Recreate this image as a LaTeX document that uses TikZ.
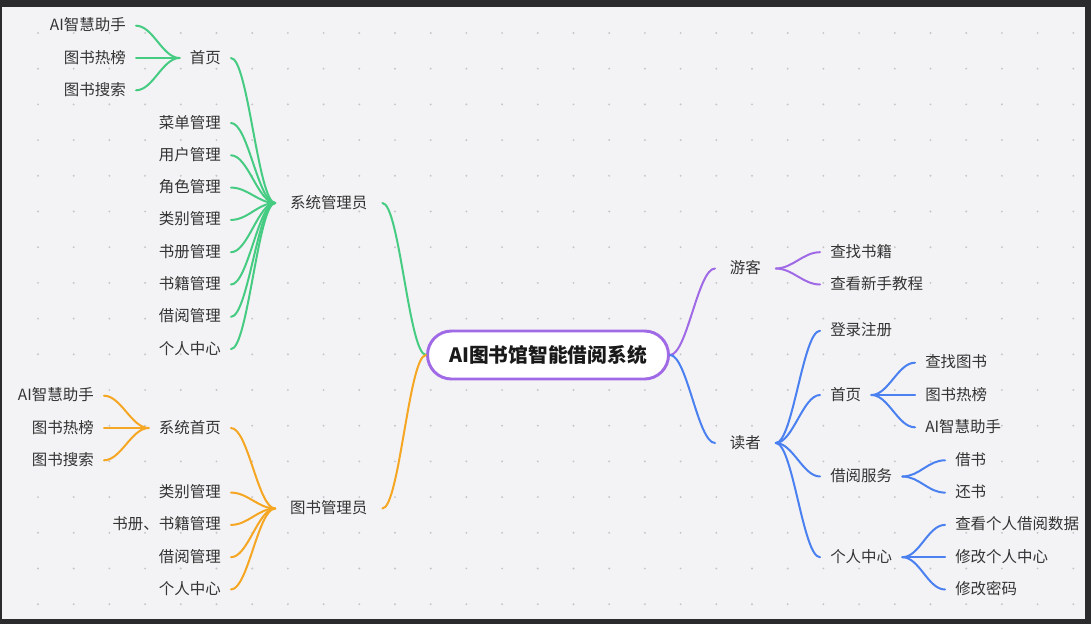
\documentclass[tikz,border=0pt]{standalone}
\usepackage{fontspec}
\setmainfont{Noto Sans CJK SC}
\definecolor{frame}{HTML}{2B2B2D}
\definecolor{canvas}{HTML}{F3F3F5}
\definecolor{griddot}{HTML}{C6C6CA}
\definecolor{ink}{HTML}{333333}
\definecolor{mmgreen}{HTML}{46CB82}
\definecolor{mmorange}{HTML}{F5A623}
\definecolor{mmpurple}{HTML}{A06AE6}
\definecolor{mmblue}{HTML}{4A80F0}
\begin{document}
\begin{tikzpicture}[x=0.75pt,y=-0.75pt,
    leaf/.style={inner xsep=7.5pt, inner ysep=0pt, text height=0.83em, text depth=0.07em,
        font=\fontsize{11.6}{14}\selectfont, text=ink},
    topic/.style={leaf, inner xsep=11pt},
    branch/.style={line width=1.5pt, line cap=round},
    curvy/.style={to path={.. controls +(17,0) and +(-17,0) .. (\tikztotarget)}}]

    % Canvas
    \fill[frame] (0,0) rectangle (1091,624);
    \fill[canvas] (2,7) rectangle (1085,619);
    \foreach \i in {0,...,29}
        \foreach \j in {0,...,16}
            \fill[griddot] (38+35.7*\i, 33+35.7*\j) circle (0.8pt);

    % Root
    \node[draw=mmpurple, line width=2.2pt, fill=white, rounded corners=18pt, inner sep=0pt,
        minimum width=180.75pt, minimum height=36pt,
        font=\fontsize{14.8}{17}\bfseries, text=black!90] (root) at (548,355) {AI图书馆智能借阅系统};

    % System administrator
    \node[topic] (admin) at (328.75,203) {系统管理员};
    \draw[branch, mmgreen] (admin.east) to[curvy] (root.west);
    \node[leaf, anchor=east] (g-home) at (231,58) {首页};
    \draw[branch, mmgreen] (g-home.east) to[curvy] (admin.west);
    \foreach \name/\y/\txt in {g-ai/25.7/AI智慧助手, g-hot/58/图书热榜, g-search/90.3/图书搜索} {
        \node[leaf, anchor=east] (\name) at (136,\y) {\txt};
        \draw[branch, mmgreen] (\name.east) to[curvy] (g-home.west);
    }
    \foreach \name/\y/\txt in {g-menu/123/菜单管理, g-user/155.3/用户管理, g-role/187.6/角色管理,
        g-cat/219.9/类别管理, g-vol/252.2/书册管理, g-book/284.5/书籍管理,
        g-lend/316.8/借阅管理, g-me/349.1/个人中心} {
        \node[leaf, anchor=east] (\name) at (231,\y) {\txt};
        \draw[branch, mmgreen] (\name.east) to[curvy] (admin.west);
    }

    % Librarian
    \node[topic] (lib) at (328.75,508.5) {图书管理员};
    \draw[branch, mmorange] (lib.east) to[curvy] (root.west);
    \node[leaf, anchor=east] (o-home) at (231,428) {系统首页};
    \draw[branch, mmorange] (o-home.east) to[curvy] (lib.west);
    \foreach \name/\y/\txt in {o-ai/395.7/AI智慧助手, o-hot/428/图书热榜, o-search/460.3/图书搜索} {
        \node[leaf, anchor=east] (\name) at (104,\y) {\txt};
        \draw[branch, mmorange] (\name.east) to[curvy] (o-home.west);
    }
    \foreach \name/\y/\txt in {o-cat/492.6/类别管理, o-book/524.9/书册、书籍管理,
        o-lend/557.2/借阅管理, o-me/589.5/个人中心} {
        \node[leaf, anchor=east] (\name) at (231,\y) {\txt};
        \draw[branch, mmorange] (\name.east) to[curvy] (lib.west);
    }

    % Visitor
    \node[topic, anchor=west] (guest) at (715,268.5) {游客};
    \draw[branch, mmpurple] (root.east) to[curvy] (guest.west);
    \foreach \name/\y/\txt in {p-find/252.2/查找书籍, p-guide/284.5/查看新手教程} {
        \node[leaf, anchor=west] (\name) at (820,\y) {\txt};
        \draw[branch, mmpurple] (guest.east) to[curvy] (\name.west);
    }

    % Reader
    \node[topic, anchor=west] (reader) at (715,443) {读者};
    \draw[branch, mmblue] (root.east) to[curvy] (reader.west);
    \node[leaf, anchor=west] (b-login) at (820,330.8) {登录注册};
    \node[leaf, anchor=west] (b-home) at (820,395) {首页};
    \node[leaf, anchor=west] (b-lend) at (820,476.5) {借阅服务};
    \node[leaf, anchor=west] (b-me) at (820,557.2) {个人中心};
    \foreach \name in {b-login, b-home, b-lend, b-me}
        \draw[branch, mmblue] (reader.east) to[curvy] (\name.west);
    \foreach \name/\y/\txt in {b-find/362.7/查找图书, b-hot/395/图书热榜, b-ai/427.3/AI智慧助手} {
        \node[leaf, anchor=west] (\name) at (915,\y) {\txt};
        \draw[branch, mmblue] (b-home.east) to[curvy] (\name.west);
    }
    \foreach \name/\y/\txt in {b-borrow/460.3/借书, b-return/492.6/还书} {
        \node[leaf, anchor=west] (\name) at (945,\y) {\txt};
        \draw[branch, mmblue] (b-lend.east) to[curvy] (\name.west);
    }
    \foreach \name/\y/\txt in {b-stats/524.9/查看个人借阅数据, b-profile/557.2/修改个人中心, b-pwd/589.5/修改密码} {
        \node[leaf, anchor=west] (\name) at (945,\y) {\txt};
        \draw[branch, mmblue] (b-me.east) to[curvy] (\name.west);
    }
\end{tikzpicture}
\end{document}
